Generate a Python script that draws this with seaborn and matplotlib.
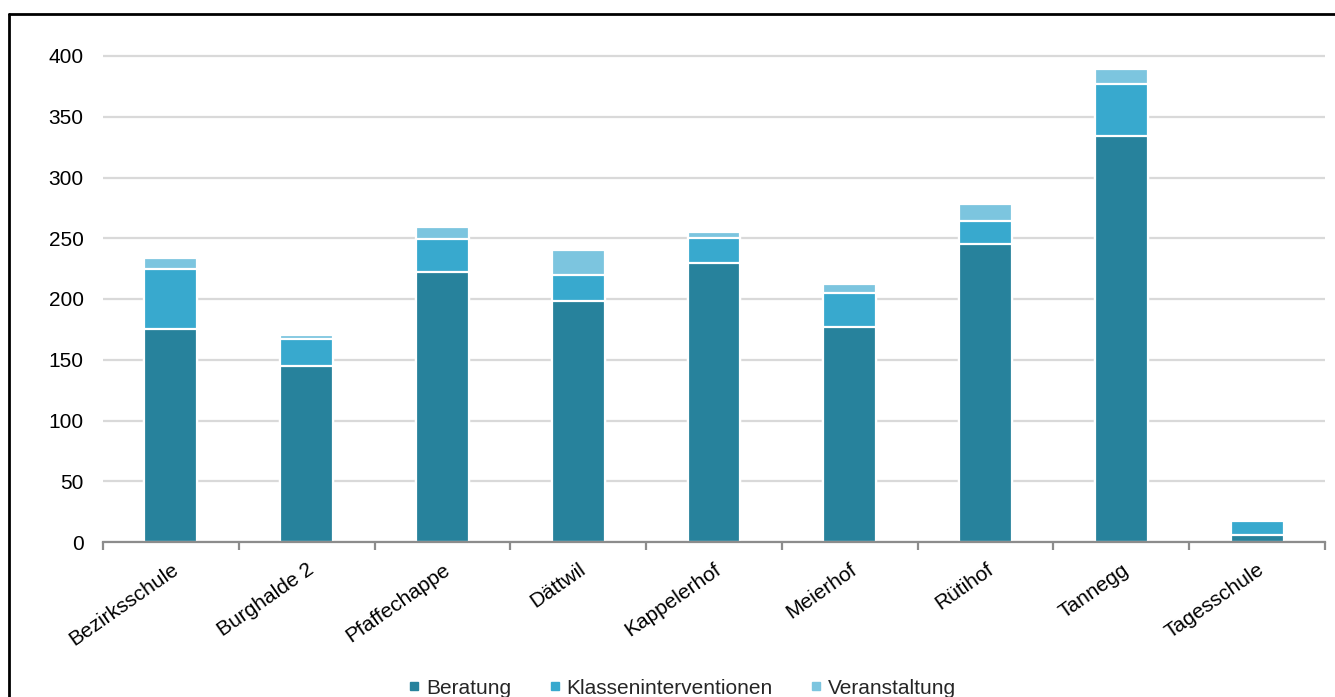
import numpy as np
import pandas as pd
import matplotlib
matplotlib.use("Agg")
import matplotlib.pyplot as plt
import matplotlib.transforms as mtransforms
import seaborn as sns
from matplotlib.lines import Line2D

# ---- data ----
schools = ["Bezirksschule", "Burghalde 2", "Pfaffechappe", "Dättwil", "Kappelerhof",
           "Meierhof", "Rütihof", "Tannegg", "Tagesschule"]
beratung = [175, 145, 222, 198, 230, 177, 245, 334, 6]
klassen = [50, 22, 27, 22, 20, 28, 19, 43, 11]
veranstaltung = [9, 3, 10, 20, 5, 7, 14, 12, 2]
series = ["Beratung", "Klasseninterventionen", "Veranstaltung"]
colors = ["#27829C", "#38A9CE", "#7CC5DF"]
yticks = [0, 50, 100, 150, 200, 250, 300, 350, 400]

sns.set_theme(style="white")
plt.rcParams["font.family"] = ["Liberation Sans", "DejaVu Sans"]

W, H = 1335, 697
fig = plt.figure(figsize=(W / 100, H / 100), dpi=100)
ymax = 402
ax = fig.add_axes([103 / W, 1 - 542 / H, 1222 / W, (486 / 400 * ymax) / H])

df = pd.DataFrame({"school": schools, "b": beratung, "k": klassen, "v": veranstaltung})
df["c1"] = df["b"]
df["c2"] = df["b"] + df["k"]
df["c3"] = df["b"] + df["k"] + df["v"]

for col, color in [("c3", colors[2]), ("c2", colors[1]), ("c1", colors[0])]:
    sns.barplot(data=df, x="school", y=col, color=color, saturation=1, width=0.39,
                edgecolor="white", linewidth=1.6, errorbar=None, ax=ax, zorder=3)

ax.set_ylim(0, ymax)
ax.set_xlim(-0.5, len(schools) - 0.5)
ax.set_yticks(yticks)
ax.set_yticklabels([str(t) for t in yticks], fontsize=15, color="#000000")
ax.set_xlabel("")
ax.set_ylabel("")
ax.set_axisbelow(True)
ax.yaxis.grid(True, color="#D9D9D9", linewidth=1.6)
ax.xaxis.grid(False)

for s in ["top", "right", "left"]:
    ax.spines[s].set_visible(False)
ax.spines["bottom"].set_color("#8C8C8C")
ax.spines["bottom"].set_linewidth(1.6)
ax.spines["bottom"].set_zorder(4)

ax.set_xticks(range(len(schools)))
ax.set_xticklabels(schools, rotation=35, ha="right", rotation_mode="anchor",
                   fontsize=15, color="#000000")
shift = mtransforms.ScaledTranslation(-5 / 100, 0, fig.dpi_scale_trans)
for lbl in ax.get_xticklabels():
    lbl.set_transform(lbl.get_transform() + shift)
ax.set_xticks(np.arange(-0.5, len(schools), 1), minor=True)
ax.tick_params(axis="x", which="major", length=0, pad=13)
ax.tick_params(axis="x", which="minor", bottom=True, length=6, width=1.6,
               color="#8C8C8C", direction="out")
ax.tick_params(axis="y", length=0, pad=14)

handles = [Line2D([], [], marker="s", linestyle="", color=c, markersize=5.5) for c in colors]
fig.legend(handles, series, loc="center", bbox_to_anchor=(682 / W, 1 - 688 / H),
           ncol=3, frameon=False, fontsize=15, handletextpad=0.25,
           columnspacing=1.8, handlelength=0.6, borderaxespad=0)

# chart border (top and left visible)
fig.add_artist(Line2D([9 / W, 9 / W], [0, 1 - 14 / H], color="black", lw=2,
                      transform=fig.transFigure))
fig.add_artist(Line2D([9 / W, 1.0], [1 - 14 / H, 1 - 14 / H], color="black", lw=2,
                      transform=fig.transFigure))

fig.savefig("out.png", dpi=100, facecolor="white")
